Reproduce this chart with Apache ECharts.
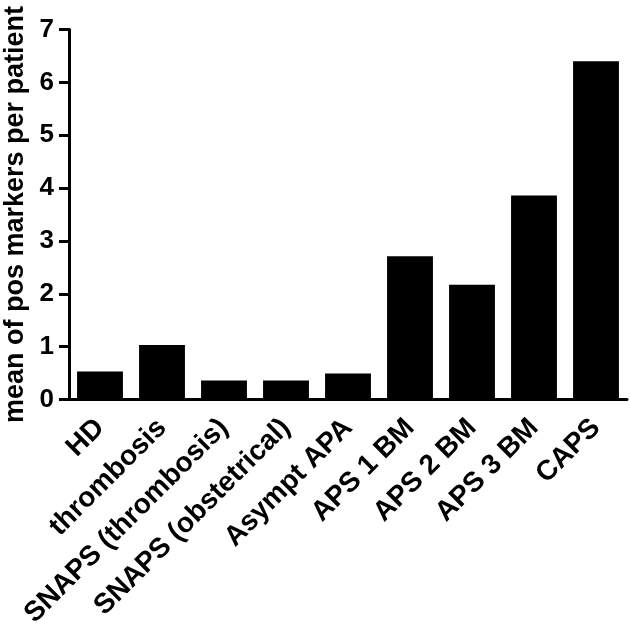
<!DOCTYPE html>
<html>
<head>
<meta charset="utf-8">
<script src="https://cdn.jsdelivr.net/npm/echarts@6/dist/echarts.min.js"></script>
<style>
html,body{margin:0;padding:0;background:#fff;}
#chart{width:630px;height:626px;}
</style>
</head>
<body>
<div id="chart"></div>
<script>
const categories = ["HD", "thrombosis", "SNAPS (thrombosis)", "SNAPS (obstetrical)", "Asympt APA", "APS 1 BM", "APS 2 BM", "APS 3 BM", "CAPS"];
const meanPosMarkers = [0.53, 1.03, 0.36, 0.36, 0.49, 2.71, 2.17, 3.86, 6.40];
const yAxisTitle = "mean of pos markers per patient";
const yMin = 0, yMax = 7, yStep = 1;

const FONT = '"Liberation Sans", Arial, sans-serif';
const chart = echarts.init(document.getElementById('chart'), null, {renderer: 'canvas'});
chart.setOption({
  animation: false,
  backgroundColor: '#fff',
  grid: {left: 69, right: 3, top: 29.5, bottom: 226.5, containLabel: false, outerBoundsMode: 'none'},
  xAxis: {
    type: 'category',
    data: categories,
    axisLine: {lineStyle: {color: '#000', width: 3}},
    axisTick: {alignWithLabel: true, length: 10, lineStyle: {color: '#000', width: 3}},
    axisLabel: {
      rotate: 45, interval: 0, margin: 24,
      color: '#000', fontFamily: FONT, fontWeight: 'bold', fontSize: 28
    }
  },
  yAxis: {
    type: 'value',
    min: yMin, max: yMax, interval: yStep,
    name: yAxisTitle,
    nameLocation: 'middle',
    nameGap: 38,
    nameTextStyle: {color: '#000', fontFamily: FONT, fontWeight: 'bold', fontSize: 27},
    axisLine: {show: true, lineStyle: {color: '#000', width: 3}},
    axisTick: {show: true, length: 10, lineStyle: {color: '#000', width: 3}},
    splitLine: {show: false},
    axisLabel: {margin: 15, color: '#000', fontFamily: FONT, fontWeight: 'bold', fontSize: 26}
  },
  series: [{
    type: 'bar',
    data: meanPosMarkers,
    barWidth: '74%',
    itemStyle: {color: '#000'}
  }]
});
</script>
</body>
</html>
